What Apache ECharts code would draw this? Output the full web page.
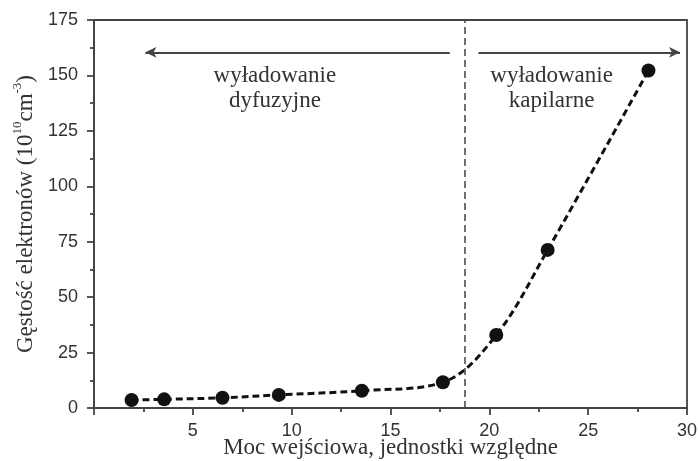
<!DOCTYPE html>
<html>
<head>
<meta charset="utf-8">
<script src="https://cdn.jsdelivr.net/npm/echarts@6/dist/echarts.min.js"></script>
<style>
  html, body { margin: 0; padding: 0; background: #fff; }
  #chart { width: 698px; height: 461px; }
</style>
</head>
<body>
<div id="chart"></div>
<script>
// Input power (relative units) and electron density (10^10 cm^-3)
const power = [1.9, 3.55, 6.5, 9.35, 13.55, 17.65, 20.35, 22.95, 28.05];
const density = [3.6, 3.9, 4.6, 5.9, 7.8, 11.6, 32.9, 71.3, 152.2];

// Boundary between the two discharge regimes
const boundaryX = 18.77;

// Regime arrows: [start x, end x] at a common height
const arrowY = 160.4;
const diffuseArrow = [2.6, 18.0];
const capillaryArrow = [19.45, 29.65];

// Regime captions: [x, y, text]
const labelY = 144.3;
const captions = [
  [9.15, labelY, 'wyładowanie\ndyfuzyjne'],
  [23.15, labelY, 'wyładowanie\nkapilarne']
];

const xTicks = { min: 0, max: 30, interval: 5 };
const yTicks = { min: 0, max: 175, interval: 25 };

const axisColor = '#444';
const textColor = '#333';
const sansFont = '"Liberation Sans", Arial, sans-serif';
const serifFont = '"Liberation Serif", "Times New Roman", serif';

const chart = echarts.init(document.getElementById('chart'), null, { renderer: 'canvas' });

const option = {
  animation: false,
  backgroundColor: '#fff',
  grid: {
    left: 94, right: 11, top: 20, bottom: 53,
    show: true, borderColor: axisColor, borderWidth: 1.8,
    containLabel: false,
    outerBoundsMode: 'none'
  },
  xAxis: {
    type: 'value',
    min: xTicks.min, max: xTicks.max, interval: xTicks.interval,
    name: 'Moc wejściowa, jednostki względne',
    nameLocation: 'middle',
    nameGap: 28,
    nameMoveOverlap: false,
    nameTextStyle: { fontFamily: serifFont, fontSize: 23, color: textColor },
    axisLine: { show: true, lineStyle: { color: axisColor, width: 1.8 } },
    axisTick: { show: true, inside: false, length: 7, lineStyle: { color: axisColor, width: 1.8 } },
    minorTick: { show: true, splitNumber: 2, length: 4, lineStyle: { color: axisColor, width: 1.8 } },
    splitLine: { show: false },
    axisLabel: {
      fontFamily: sansFont, fontSize: 18, color: textColor, margin: 14,
      formatter: v => (v === 0 ? '' : String(v))
    }
  },
  yAxis: {
    type: 'value',
    min: yTicks.min, max: yTicks.max, interval: yTicks.interval,
    name: '{t|Gęstość elektronów (10}{sup|10}{t|cm}{sup|-3}{t|)}',
    nameLocation: 'middle',
    nameGap: 56,
    nameRotate: 90,
    nameTextStyle: {
      fontFamily: serifFont, fontSize: 23, color: textColor,
      rich: {
        t: { fontFamily: serifFont, fontSize: 23, color: textColor, verticalAlign: 'bottom', lineHeight: 26 },
        sup: { fontFamily: serifFont, fontSize: 13, color: textColor, verticalAlign: 'top', lineHeight: 26 }
      }
    },
    axisLine: { show: true, lineStyle: { color: axisColor, width: 1.8 } },
    axisTick: { show: true, inside: false, length: 7, lineStyle: { color: axisColor, width: 1.8 } },
    minorTick: { show: true, splitNumber: 2, length: 4, lineStyle: { color: axisColor, width: 1.8 } },
    splitLine: { show: false },
    axisLabel: { fontFamily: sansFont, fontSize: 18, color: textColor, margin: 16 }
  },
  series: [
    {
      type: 'line',
      data: power.map((x, i) => [x, density[i]]),
      smooth: 0.35,
      symbol: 'circle',
      symbolSize: 14,
      itemStyle: { color: '#111' },
      lineStyle: { color: '#111', width: 3, type: [7, 4] },
      z: 3,
      markLine: {
        silent: true,
        animation: false,
        symbol: ['none', 'none'],
        label: { show: false },
        lineStyle: { color: axisColor, width: 1.5, type: [7, 4] },
        data: [
          { xAxis: boundaryX, symbol: 'none' },
          [
            { coord: [diffuseArrow[0], arrowY], symbol: 'arrow', symbolSize: [8, 11], lineStyle: { type: 'solid', width: 1.8, color: axisColor } },
            { coord: [diffuseArrow[1], arrowY], symbol: 'none' }
          ],
          [
            { coord: [capillaryArrow[0], arrowY], symbol: 'none', lineStyle: { type: 'solid', width: 1.8, color: axisColor } },
            { coord: [capillaryArrow[1], arrowY], symbol: 'arrow', symbolSize: [8, 11] }
          ]
        ]
      },
      markPoint: {
        silent: true,
        symbol: 'circle',
        symbolSize: 0,
        data: captions.map(c => ({
          coord: [c[0], c[1]],
          label: {
            show: true,
            position: 'inside',
            formatter: c[2],
            fontFamily: serifFont,
            fontSize: 23,
            lineHeight: 25,
            color: textColor,
            align: 'center',
            verticalAlign: 'middle'
          }
        }))
      }
    }
  ]
};

chart.setOption(option);
</script>
</body>
</html>
